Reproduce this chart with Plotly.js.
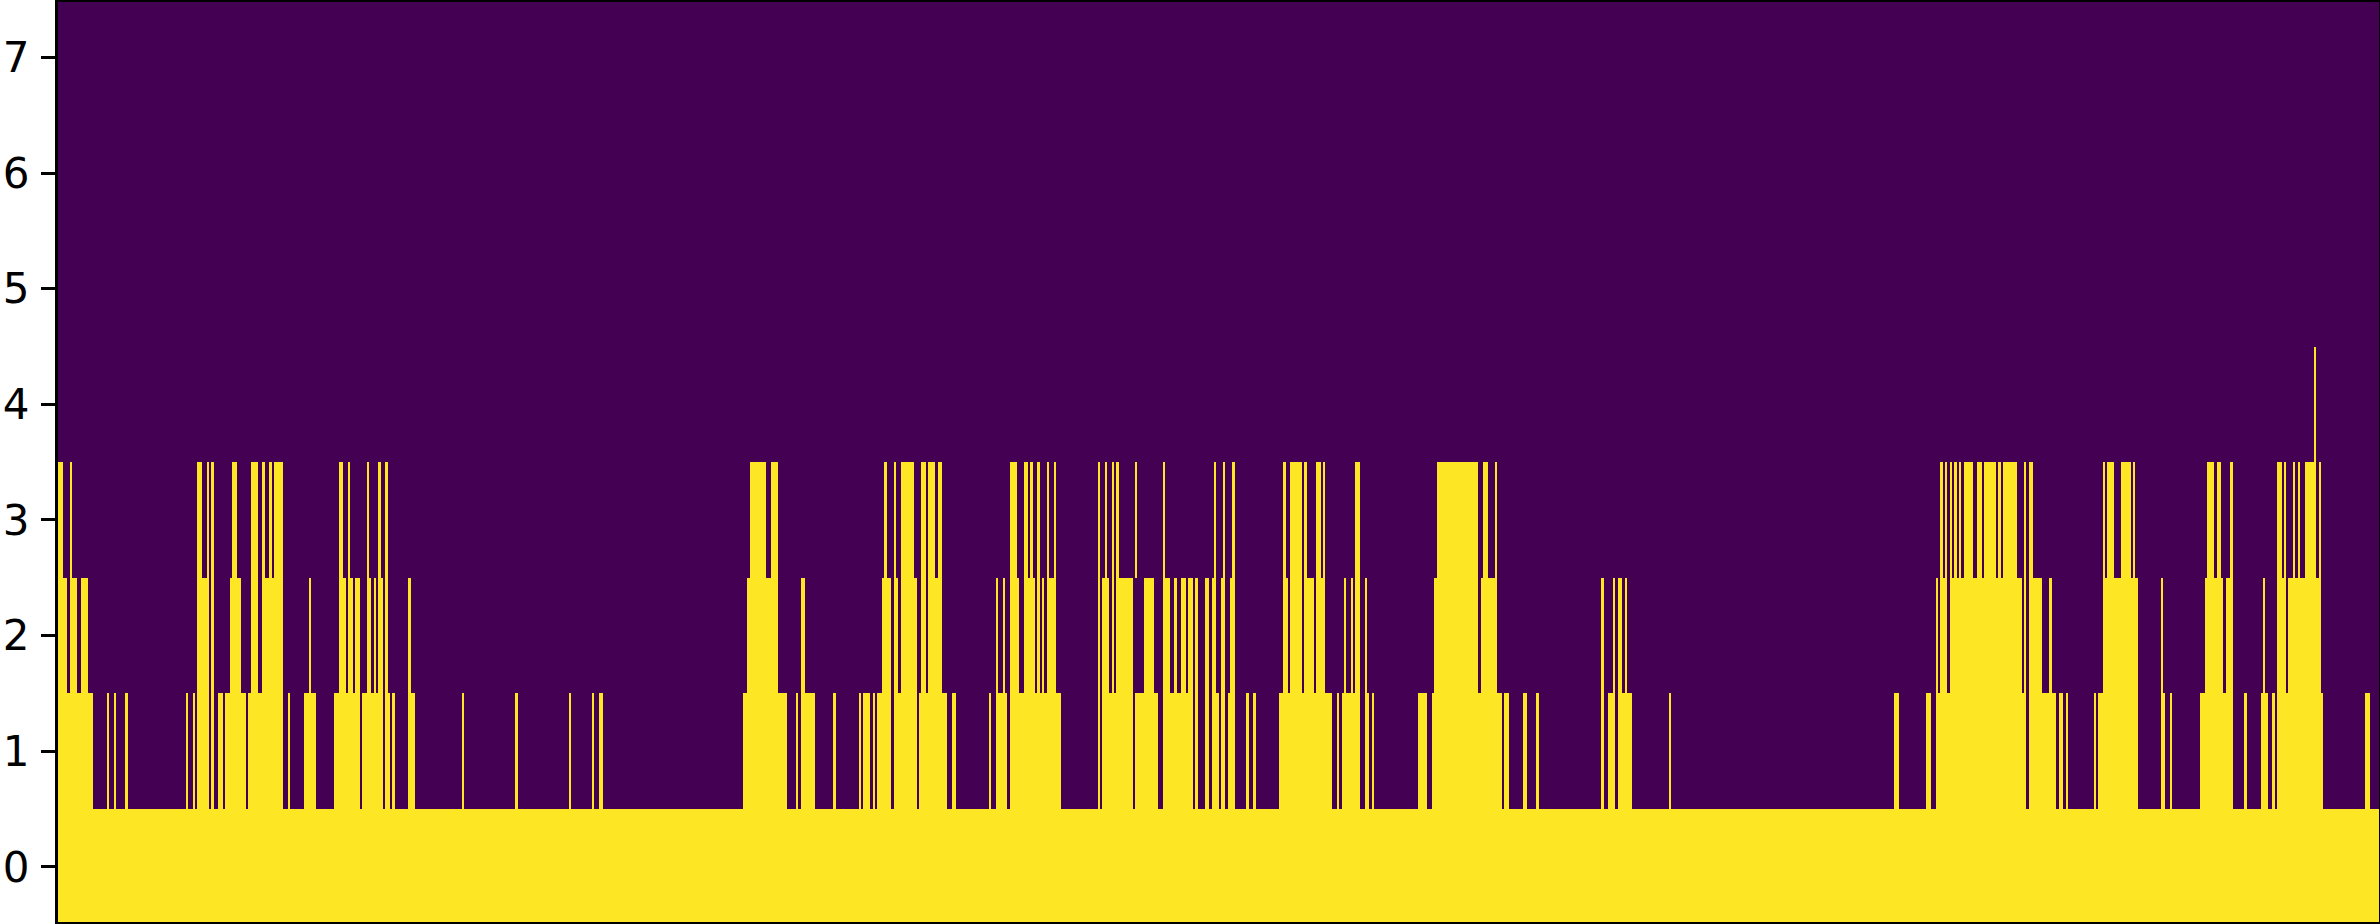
<!DOCTYPE html>
<html>
<head>
<meta charset="utf-8">
<script src="https://cdn.plot.ly/plotly-3.0.1.min.js"></script>
<style>html,body{margin:0;padding:0;background:#fff;overflow:hidden}#chart{width:2380px;height:924px}</style>
</head>
<body>
<div id="chart"></div>
<script>
const columnCount = 1000;
const rowLabels = [0, 1, 2, 3, 4, 5, 6, 7];

// Occupied column spans [start, end) for each row.
const row0Spans = [[0,1000]];
const row1Spans = [[0,15],[21,22],[24,25],[29,30],[55,56],[58,59],[60,65],[66,67],[69,71],[72,81],[82,97],[99,100],[106,111],[119,130],[131,140],[141,143],[144,145],[151,154],[174,175],
  [197,198],[220,221],[230,231],[233,235],[295,314],[318,319],[320,326],[334,335],[345,346],[347,350],[351,352],[353,359],[360,370],[371,383],[385,387],
  [401,402],[404,409],[410,432],[448,449],[450,463],[464,474],[476,489],[490,491],[494,496],[497,500],[501,503],[504,507],[512,513],[515,516],[526,549],[551,552],[553,561],[563,565],[566,567],[586,590],[592,622],
  [623,625],[631,633],[637,638],[665,666],[668,671],[672,678],[694,695],[791,793],
  [805,807],[809,848],[849,861],[862,864],[865,866],[877,878],[879,896],[906,908],[910,911],[923,937],[942,943],[949,952],[954,955],[956,976],[994,996]];
const row2Spans = [[0,4],[5,8],[10,13],[60,65],[66,67],[74,79],[83,86],[88,97],[108,109],[121,124],[125,127],[128,130],[133,135],[136,137],[138,140],[141,142],[151,152],
  [297,310],[320,322],[355,359],[360,362],[363,370],[372,374],[375,381],
  [404,405],[407,408],[410,414],[416,421],[422,423],[424,425],[426,430],[448,449],[450,453],[454,455],[456,463],[468,472],[476,479],[481,482],[484,486],[487,489],[490,491],[494,496],[497,499],[501,503],[505,507],[528,530],[531,536],[537,541],[542,546],[554,555],[557,558],[559,561],[563,564],[593,612],[613,620],
  [665,666],[670,671],[672,674],[675,676],
  [809,810],[811,814],[815,846],[847,848],[849,855],[858,859],[881,896],[906,907],[925,933],[934,937],[950,951],[956,960],[961,975]];
const row3Spans = [[0,2],[5,6],[60,62],[64,65],[66,67],[75,77],[83,86],[88,89],[91,92],[93,97],[121,123],[125,126],[133,134],[138,139],[141,142],
  [298,305],[307,310],[356,357],[360,361],[363,369],[372,374],[375,378],[379,381],
  [410,413],[416,418],[419,420],[422,423],[426,427],[429,430],[448,449],[451,452],[454,455],[456,457],[464,465],[476,477],[498,499],[502,503],[506,507],[528,529],[531,536],[537,538],[542,544],[545,546],[559,561],[594,612],[614,616],[619,620],
  [811,812],[813,814],[815,816],[817,818],[819,820],[821,825],[827,829],[830,835],[836,837],[838,844],[847,848],[849,851],[881,882],[883,886],[889,893],[894,895],[926,929],[930,932],[936,937],[956,958],[959,960],[963,964],[965,966],[968,973],[974,975]];
const row4Spans = [[972,973]];
const row5Spans = [];
const row6Spans = [];
const row7Spans = [];

const allRows = [row0Spans,row1Spans,row2Spans,row3Spans,row4Spans,row5Spans,row6Spans,row7Spans];
const z = allRows.map(spans => {
  const r = new Array(columnCount).fill(0);
  spans.forEach(([a,b]) => { for (let i=a;i<b;i++) r[i]=1; });
  return r;
});
const xs = Array.from({length:columnCount},(_,i)=>i);

Plotly.newPlot('chart',[{
  type:'heatmap', z:z, x:xs, y:rowLabels,
  zmin:0, zmax:1, zsmooth:false, showscale:false, hoverinfo:'skip',
  colorscale:[[0,'#440154'],[1,'#fde725']]
}],{
  width:2380, height:924,
  margin:{l:58,r:1,t:2,b:2,pad:0},
  paper_bgcolor:'#ffffff', plot_bgcolor:'#440154',
  font:{family:'"DejaVu Sans", sans-serif',color:'#000000'},
  xaxis:{range:[-0.5,999.5],showticklabels:false,ticks:'',showgrid:false,zeroline:false,
    showline:true,mirror:true,linecolor:'#000000',linewidth:3},
  yaxis:{range:[-0.477,7.48],tickmode:'array',tickvals:rowLabels,ticktext:rowLabels.map(String),
    ticks:'outside',ticklen:14,tickwidth:3,tickcolor:'#000000',ticklabelstandoff:3,
    tickfont:{family:'"DejaVu Sans", sans-serif',size:42,color:'#000000'},
    showgrid:false,zeroline:false,showline:true,mirror:true,linecolor:'#000000',linewidth:3}
},{staticPlot:true,displayModeBar:false});
</script>
</body>
</html>
